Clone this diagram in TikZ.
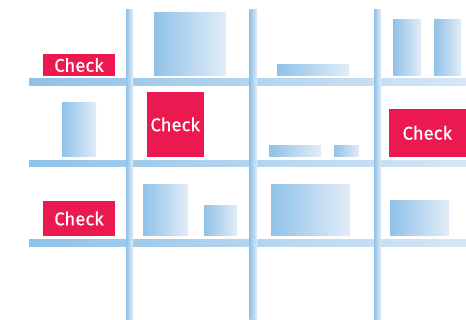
\documentclass[tikz,border=0pt]{standalone}
\usepackage{fontspec}
\setmainfont{Fira Sans}[FakeBold=0.5]
\definecolor{chk}{RGB}{236,24,80}
\definecolor{bdark}{RGB}{144,194,232}
\definecolor{blight}{RGB}{226,236,248}
\definecolor{sright}{RGB}{214,230,246}
\begin{document}
\begin{tikzpicture}[x=1pt,y=-1pt,
  box/.style={left color=bdark,right color=blight},
  shelf/.style={left color=bdark,right color=sright},
  post/.style={left color=bdark,right color=blight},
  check/.style={fill=chk,text=white,inner sep=0pt,font=\fontsize{18.5}{18.5}\selectfont}]
\useasboundingbox (0,0) rectangle (466,320);
% shelves
\shade[shelf] (29,79) rectangle (466,85.5);
\shade[shelf] (29,160.5) rectangle (466,167);
\shade[shelf] (29,240) rectangle (466,246.5);
% posts
\shade[post] (126,10) rectangle (133,320);
\shade[post] (249.5,10) rectangle (257,320);
\shade[post] (374,10) rectangle (381,320);
% row 1
\node[check,minimum width=72pt,minimum height=22pt] (c1) at (79,65) {Check};
\shade[box] (154,13) rectangle (226,76);
\shade[box] (277,65) rectangle (349,76);
\shade[box] (393,20) rectangle (421,76);
\shade[box] (434,20) rectangle (461,76);
% row 2
\shade[box] (62,103) rectangle (96,157);
\node[check,minimum width=57pt,minimum height=65pt] (c2) at (175.2,124.4) {Check};
\shade[box] (269,146) rectangle (321,157);
\shade[box] (334,146) rectangle (359,157);
\node[check,minimum width=77.5pt,minimum height=48pt] (c3) at (427.3,132.8) {Check};
% row 3
\node[check,minimum width=72pt,minimum height=35pt] (c4) at (79,218.5) {Check};
\shade[box] (143,185) rectangle (188,236);
\shade[box] (204,206) rectangle (237,236);
\shade[box] (271,185) rectangle (350,236);
\shade[box] (390,201) rectangle (449,236);
\end{tikzpicture}
\end{document}
